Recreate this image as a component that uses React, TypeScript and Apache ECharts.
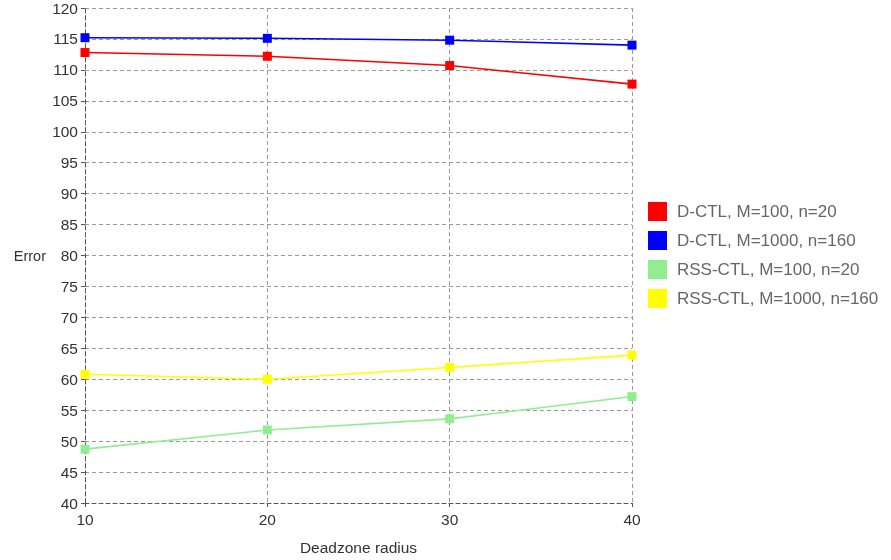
import React, { useEffect, useRef } from "react";
import * as echarts from "echarts";

const xValues = [10, 20, 30, 40];
const seriesNames = [
  "D-CTL, M=100, n=20",
  "D-CTL, M=1000, n=160",
  "RSS-CTL, M=100, n=20",
  "RSS-CTL, M=1000, n=160",
];
const dctl100 = [112.8, 112.2, 110.7, 107.7];
const dctl1000 = [115.2, 115.1, 114.8, 114.0];
const rss100 = [48.7, 51.8, 53.6, 57.2];
const rss1000 = [60.8, 60.0, 61.9, 63.9];
const colors = ["#ff0000", "#0000ff", "#90ee90", "#ffff00"];

export default function App() {
  const ref = useRef<HTMLDivElement>(null);
  useEffect(() => {
    if (!ref.current) return;
    const chart = echarts.init(ref.current, undefined, { renderer: "svg" });
    const all = [dctl100, dctl1000, rss100, rss1000];
    const font = "Liberation Sans, Arial, sans-serif";
    chart.setOption({
      animation: false,
      textStyle: { fontFamily: font },
      grid: { left: 85, right: 259, top: 5, bottom: 57 },
      legend: {
        orient: "vertical",
        left: 643,
        top: 197,
        itemWidth: 19,
        itemHeight: 19,
        itemGap: 10,
        icon: "rect",
        textStyle: {
          fontSize: 17,
          color: "#666",
          fontFamily: font,
          padding: [0, 0, 0, 5],
        },
        data: seriesNames,
      },
      xAxis: {
        type: "value",
        min: 10,
        max: 40,
        interval: 10,
        name: "Deadzone radius",
        nameLocation: "middle",
        nameGap: 36,
        nameTextStyle: { fontSize: 15.5, color: "#333" },
        axisLine: { lineStyle: { color: "#555", type: [4, 3] } },
        axisTick: { show: true, length: 4, lineStyle: { color: "#555" } },
        axisLabel: { fontSize: 15.5, color: "#333", margin: 8 },
        splitLine: { show: true, lineStyle: { color: "#999", type: [4, 3] } },
      },
      yAxis: {
        type: "value",
        min: 40,
        max: 120,
        interval: 5,
        name: "Error",
        nameLocation: "middle",
        nameRotate: 0,
        nameGap: 39,
        nameTextStyle: { fontSize: 14.5, color: "#333" },
        axisLine: { show: true, lineStyle: { color: "#555", type: [4, 3] } },
        axisTick: { show: true, length: 4, lineStyle: { color: "#555" } },
        axisLabel: { fontSize: 15.5, color: "#333", margin: 7 },
        splitLine: { show: true, lineStyle: { color: "#999", type: [4, 3] } },
      },
      series: all.map((d, i) => ({
        name: seriesNames[i],
        type: "line",
        data: d.map((v, j) => [xValues[j], v]),
        symbol: "rect",
        symbolSize: 9,
        showSymbol: true,
        itemStyle: { color: colors[i] },
        lineStyle: { color: colors[i], width: 1.6 },
      })),
    });
    return () => chart.dispose();
  }, []);
  return (
    <div
      ref={ref}
      style={{ position: "fixed", left: 0, top: 0, width: 891, height: 560 }}
    />
  );
}
